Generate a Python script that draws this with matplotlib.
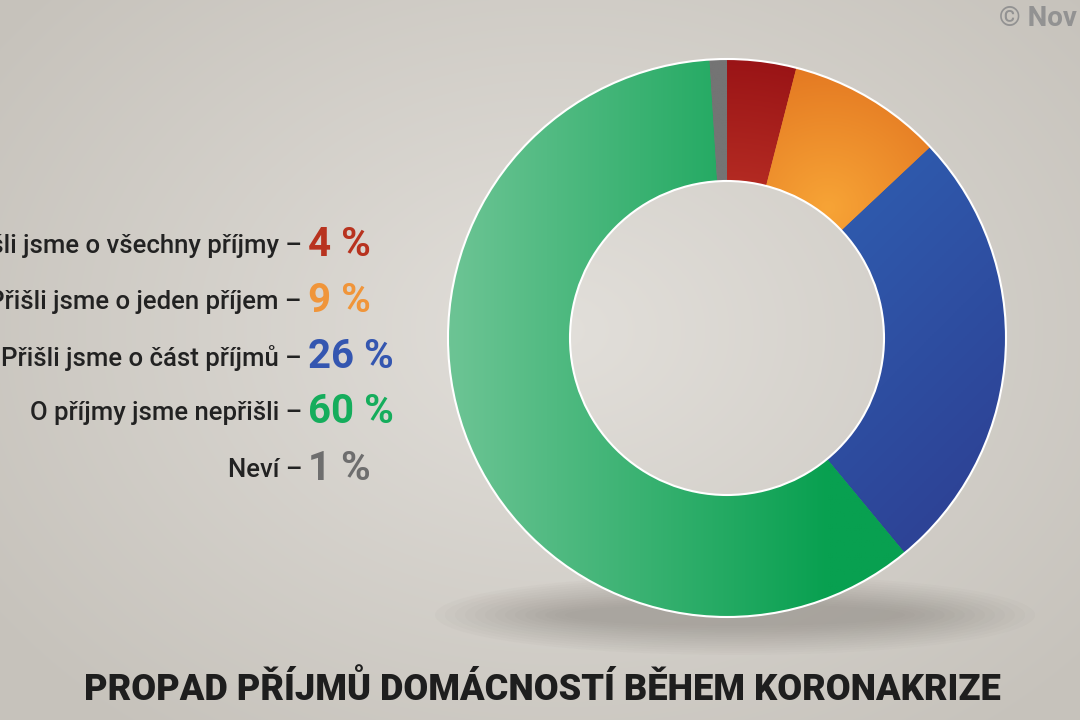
import numpy as np
import matplotlib
matplotlib.use("Agg")
import matplotlib.pyplot as plt
from matplotlib.patches import Circle, Ellipse
from matplotlib.colors import to_rgb

# data
labels = ["Přišli jsme o všechny příjmy", "Přišli jsme o jeden příjem",
          "Přišli jsme o část příjmů", "O příjmy jsme nepřišli", "Neví"]
values = [4, 9, 26, 60, 1]
pct_text = ["4 %", "9 %", "26 %", "60 %", "1 %"]
title = "PROPAD PŘÍJMŮ DOMÁCNOSTÍ BĚHEM KORONAKRIZE"

wedge_dark = ["#9a1416", "#e0701e", "#2d3f92", "#08a050", "#5e5e5e"]
wedge_light = ["#b32a22", "#f7a436", "#2f5db0", "#6cc494", "#747474"]
text_cols = ["#b8331f", "#f0953a", "#3456b0", "#15ad5c", "#6e6e6e"]

W, H = 1080, 720
fig = plt.figure(figsize=(W / 100, H / 100), dpi=100)

# background with soft radial gradient
bg = fig.add_axes([0, 0, 1, 1])
yy, xx = np.mgrid[0:H, 0:W]
d = np.sqrt(((xx - 560) / 700.0) ** 2 + ((yy - 330) / 520.0) ** 2)
d = np.clip(d, 0, 1)
c0 = np.array(to_rgb("#e2dfda"))
c1 = np.array(to_rgb("#c6c2bb"))
img = c0[None, None, :] * (1 - d[..., None]) + c1[None, None, :] * d[..., None]
bg.imshow(img, extent=[0, W, H, 0], aspect="auto")
# shadow under the donut
for i in range(14):
    bg.add_patch(Ellipse((735, 615), 600 - i * 20, 80 - i * 4.5,
                         facecolor="#706b65", alpha=0.03, lw=0))
bg.set_xlim(0, W)
bg.set_ylim(H, 0)
bg.axis("off")

# donut axes (pixel-based placement)
cx, cy, half = 727, 338, 290
ax = fig.add_axes([(cx - half) / W, 1 - (cy + half) / H, 2 * half / W, 2 * half / H])
R = 279 / half
r_in = 157 / half
wedges, _ = ax.pie(values, radius=R, startangle=90, counterclock=False,
                   colors=wedge_dark, wedgeprops=dict(width=R - r_in, linewidth=0))

# gradient fill per wedge
gy, gx = np.mgrid[-1:1:300j, -1:1:300j]
gy = -gy
grads = []
grads.append(np.clip((np.hypot(gx, gy) - r_in) / (R - r_in), 0, 1))
grads.append(np.clip(np.hypot(gx - 0.35, gy - 0.45) / 0.6, 0, 1))
grads.append(np.clip((gx - gy + 0.2) / 1.8, 0, 1))
grads.append(np.clip((gx + 0.95) / 1.3, 0, 1))
grads.append(np.zeros_like(gx))
for w, g, cd, cl in zip(wedges, grads, wedge_dark, wedge_light):
    a = np.array(to_rgb(cl))
    b = np.array(to_rgb(cd))
    im = a[None, None, :] * (1 - g[..., None]) + b[None, None, :] * g[..., None]
    art = ax.imshow(im, extent=[-1, 1, -1, 1], zorder=2)
    art.set_clip_path(w)

ax.add_patch(Circle((0, 0), R, fill=False, ec="white", lw=1.5, zorder=3))
ax.add_patch(Circle((0, 0), r_in, fill=False, ec="white", lw=1.5, zorder=3))
ax.set_xlim(-1, 1)
ax.set_ylim(-1, 1)
ax.set_aspect("equal")
ax.axis("off")

# legend-like labels
fam = ["Roboto", "DejaVu Sans"]
rows_y = [246, 302, 358, 413, 470]
for lab, pt, col, y in zip(labels, pct_text, text_cols, rows_y):
    fig.text(302 / W, 1 - y / H, lab + " –", ha="right", va="center",
             fontsize=18.5, fontweight="medium", color="#222222", family=fam)
    fig.text(308 / W, 1 - (y - 1) / H, pt, ha="left", va="center",
             fontsize=29, fontweight="bold", color=col, family=fam)

# title
fig.text(542 / W, 1 - 690 / H, title, ha="center", va="center",
         fontsize=26, fontweight="black", color="#1e1e1e", family=fam)

# watermark
fig.text(999 / W, 1 - 19 / H, "© Nov", ha="left", va="center",
         fontsize=20, fontweight="bold", color="#929292", family=fam)

fig.savefig("out.png", dpi=100)
